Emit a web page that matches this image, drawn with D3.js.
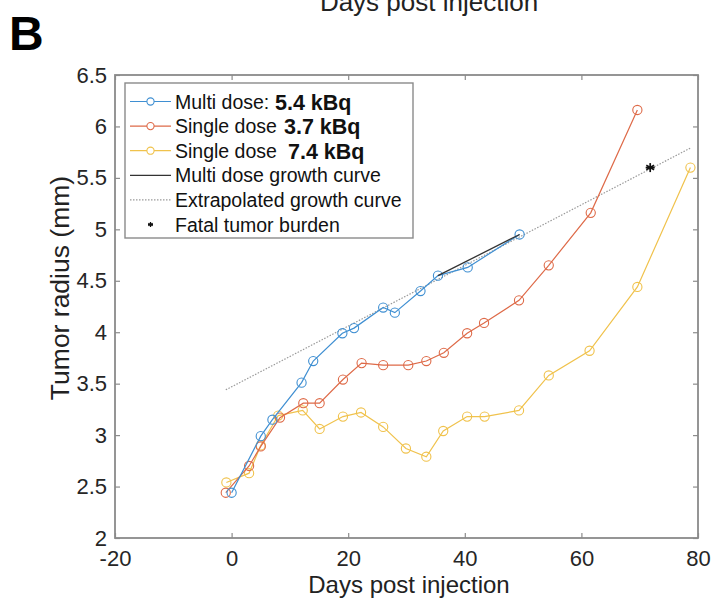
<!DOCTYPE html>
<html>
<head>
<meta charset="utf-8">
<script src="https://cdn.jsdelivr.net/npm/d3@7"></script>
<style>
  html, body { margin: 0; padding: 0; background: #fff; }
  svg { display: block; font-family: "Liberation Sans", Arial, Helvetica, sans-serif; }
</style>
</head>
<body>
<svg id="chart" width="717" height="605"></svg>
<script>
// Tumor radius over time for the three dosing groups
const multiDays = [0, 5, 7, 12, 14, 19, 21, 26, 28, 32.4, 35.4, 40.5, 49.4];
const multiRadius = [2.44, 2.99, 3.15, 3.51, 3.72, 3.99, 4.04, 4.24, 4.19, 4.40, 4.55, 4.63, 4.95];

const single37Days = [-1, 3, 5, 8.3, 12.3, 15.1, 19.1, 22.3, 26, 30.3, 33.4, 36.4, 40.4, 43.3, 49.3, 54.4, 61.6, 69.6];
const single37Radius = [2.44, 2.70, 2.89, 3.17, 3.31, 3.31, 3.54, 3.70, 3.68, 3.68, 3.72, 3.80, 3.99, 4.09, 4.31, 4.65, 5.16, 6.16];

const single74Days = [-0.9, 3, 5, 8, 12.2, 15.1, 19.1, 22.2, 26, 29.9, 33.4, 36.3, 40.4, 43.4, 49.3, 54.4, 61.4, 69.6, 78.7];
const single74Radius = [2.54, 2.63, 2.90, 3.19, 3.24, 3.06, 3.18, 3.22, 3.08, 2.87, 2.79, 3.04, 3.18, 3.18, 3.24, 3.58, 3.82, 4.44, 5.60];

// Fitted growth curve over the late multi-dose points, and its extrapolation
const growthDays = [35.4, 49.4];
const growthRadius = [4.55, 4.95];
const extrapDays = [-1, 78.7];
const extrapRadius = [3.44, 5.79];

// Fatal tumor burden marker
const fatalDay = [71.8];
const fatalRadius = [5.60];

const xTicks = [-20, 0, 20, 40, 60, 80];
const yTicks = [2, 2.5, 3, 3.5, 4, 4.5, 5, 5.5, 6, 6.5];

const legendLabels = ["Multi dose:", "Single dose", "Single dose", "Multi dose growth curve", "Extrapolated growth curve", "Fatal tumor burden"];
const legendDoses = ["5.4 kBq", "3.7 kBq", "7.4 kBq", "", "", ""];

const colBlue = "#3f8fd2", colOrange = "#de6a48", colYellow = "#f0c24c";

const svg = d3.select("#chart");
const plotL = 115, plotR = 698, plotT = 75, plotB = 538;

const x = d3.scaleLinear().domain([-20, 80]).range([plotL, plotR]);
const y = d3.scaleLinear().domain([2, 6.5]).range([plotB, plotT]);

// Panel letter and the caption cut off at the top edge
svg.append("text").attr("x", 9).attr("y", 50)
  .attr("font-size", 48).attr("font-weight", "bold").attr("fill", "#000").text("B");
svg.append("text").attr("x", 429).attr("y", 11).attr("text-anchor", "middle")
  .attr("font-size", 26).attr("fill", "#222").text("Days post injection");

// Axes: ticks point inward on all four sides
const tickColor = "#8c8c8c";
function styleAxis(g) {
  g.select(".domain").remove();
  g.selectAll(".tick line").attr("stroke", tickColor).attr("stroke-width", 1.2);
  g.selectAll(".tick text").attr("fill", "#262626").attr("font-size", 22)
    .attr("font-family", "\"Liberation Sans\", Arial, sans-serif");
}
svg.append("g").attr("transform", `translate(0,${plotB})`)
  .call(d3.axisBottom(x).tickValues(xTicks).tickSize(-5).tickPadding(12).tickFormat(d => String(d)))
  .call(styleAxis);
svg.append("g").attr("transform", `translate(0,${plotT})`)
  .call(d3.axisTop(x).tickValues(xTicks).tickSize(-5).tickFormat(""))
  .call(styleAxis);
svg.append("g").attr("transform", `translate(${plotL},0)`)
  .call(d3.axisLeft(y).tickValues(yTicks).tickSize(-5).tickPadding(8).tickFormat(d => String(d)))
  .call(styleAxis);
svg.append("g").attr("transform", `translate(${plotR},0)`)
  .call(d3.axisRight(y).tickValues(yTicks).tickSize(-5).tickFormat(""))
  .call(styleAxis);

svg.append("rect").attr("x", plotL).attr("y", plotT)
  .attr("width", plotR - plotL).attr("height", plotB - plotT)
  .attr("fill", "none").attr("stroke", "#8a8a8a").attr("stroke-width", 1.8);

// Axis titles
svg.append("text").attr("x", 409).attr("y", 593).attr("text-anchor", "middle")
  .attr("font-size", 24).attr("fill", "#222").text("Days post injection");
svg.append("text").attr("transform", "translate(69,288) rotate(-90)")
  .attr("text-anchor", "middle").attr("font-size", 26.5).attr("fill", "#222").text("Tumor radius (mm)");

const line = d3.line().x(d => x(d[0])).y(d => y(d[1]));
const zip = (a, b) => a.map((v, i) => [v, b[i]]);

// Extrapolated growth curve (dotted)
svg.append("path").datum(zip(extrapDays, extrapRadius)).attr("d", line)
  .attr("fill", "none").attr("stroke", "#9a9a9a").attr("stroke-width", 1.2)
  .attr("stroke-dasharray", "1.5,1.5");

function series(days, radius, color) {
  const pts = zip(days, radius);
  svg.append("path").datum(pts).attr("d", line)
    .attr("fill", "none").attr("stroke", color).attr("stroke-width", 1.2);
  svg.append("g").selectAll("circle").data(pts).join("circle")
    .attr("cx", d => x(d[0])).attr("cy", d => y(d[1])).attr("r", 4.6)
    .attr("fill", "none").attr("stroke", color).attr("stroke-width", 1.1);
}
series(single74Days, single74Radius, colYellow);
series(single37Days, single37Radius, colOrange);
series(multiDays, multiRadius, colBlue);

// Multi dose growth curve (solid)
svg.append("path").datum(zip(growthDays, growthRadius)).attr("d", line)
  .attr("fill", "none").attr("stroke", "#333").attr("stroke-width", 1.3);

// Asterisk marker
function asterisk(g, cx, cy, s, w) {
  const a = g.append("g").attr("transform", `translate(${cx},${cy})`)
    .attr("stroke", "#111").attr("stroke-width", w);
  [0, 60, 120].forEach(ang => {
    a.append("line").attr("x1", 0).attr("y1", -s).attr("x2", 0).attr("y2", s)
      .attr("transform", `rotate(${ang})`);
  });
  a.append("line").attr("x1", -s).attr("y1", 0).attr("x2", s).attr("y2", 0);
}
fatalDay.forEach((d, i) => asterisk(svg, x(d), y(fatalRadius[i]), 4.5, 1.7));

// Legend
const lg = svg.append("g");
lg.append("rect").attr("x", 125).attr("y", 83).attr("width", 288).attr("height", 155)
  .attr("fill", "#fff").attr("stroke", "#8a8a8a").attr("stroke-width", 1.4);
const rowY0 = 101.5, rowStep = 24.6;
const doseX = [275, 284, 288];
const legendColors = [colBlue, colOrange, colYellow];
legendLabels.forEach((lab, i) => {
  const cy = rowY0 + i * rowStep;
  if (i < 3) {
    lg.append("line").attr("x1", 130).attr("x2", 171).attr("y1", cy).attr("y2", cy)
      .attr("stroke", legendColors[i]).attr("stroke-width", 1.2);
    lg.append("circle").attr("cx", 150.5).attr("cy", cy).attr("r", 3.6)
      .attr("fill", "#fff").attr("stroke", legendColors[i]).attr("stroke-width", 1.1);
  } else if (i === 3) {
    lg.append("line").attr("x1", 130).attr("x2", 171).attr("y1", cy).attr("y2", cy)
      .attr("stroke", "#333").attr("stroke-width", 1.3);
  } else if (i === 4) {
    lg.append("line").attr("x1", 130).attr("x2", 171).attr("y1", cy).attr("y2", cy)
      .attr("stroke", "#9a9a9a").attr("stroke-width", 1.2).attr("stroke-dasharray", "1.5,1.5");
  } else {
    asterisk(lg, 150.5, cy, 2.5, 1.3);
  }
  lg.append("text").attr("x", 175).attr("y", cy + 7).attr("font-size", 19.5)
    .attr("fill", "#111").text(lab);
  if (legendDoses[i]) {
    lg.append("text").attr("x", doseX[i]).attr("y", cy + 8).attr("font-size", 21.5)
      .attr("font-weight", "bold").attr("fill", "#111").text(legendDoses[i]);
  }
});
</script>
</body>
</html>
